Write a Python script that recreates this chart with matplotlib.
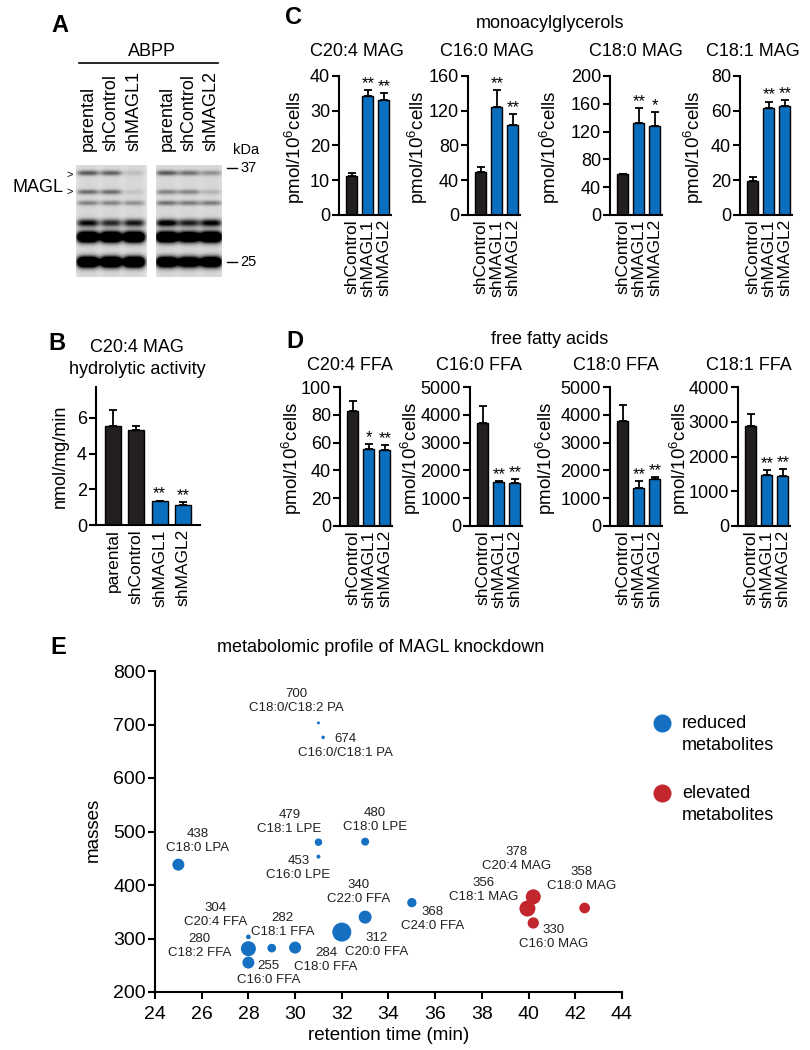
import numpy as np
import matplotlib
matplotlib.use('Agg')
import matplotlib.pyplot as plt

plt.rcParams['font.family'] = ['Liberation Sans', 'DejaVu Sans']
plt.rcParams['mathtext.default'] = 'regular'

# ---------------- data ----------------
# Panel A: western blot (ABPP) band darkness, bands from top to bottom, one row per lane
blot_lanes_1 = ['parental', 'shControl', 'shMAGL1']
blot_lanes_2 = ['parental', 'shControl', 'shMAGL2']
blot_gel1 = [[0.50, 0.42, 0.33, 0.85, 1.9, 1.9],
             [0.46, 0.42, 0.33, 0.70, 1.9, 1.9],
             [0.10, 0.08, 0.28, 0.78, 1.9, 1.9]]
blot_gel2 = [[0.50, 0.33, 0.40, 0.95, 1.9, 1.7],
             [0.40, 0.33, 0.36, 0.75, 1.7, 1.6],
             [0.28, 0.14, 0.36, 0.88, 1.9, 1.7]]
kda_marks = ['37', '25']

# Panel B
b_groups = ['parental', 'shControl', 'shMAGL1', 'shMAGL2']
b_vals = [5.55, 5.34, 1.34, 1.12]
b_errs = [0.87, 0.19, 0.03, 0.17]
b_stars = ['', '', '**', '**']

# Panel C: monoacylglycerols
c_groups = ['shControl', 'shMAGL1', 'shMAGL2']
mag_titles = ['C20:4 MAG', 'C16:0 MAG', 'C18:0 MAG', 'C18:1 MAG']
mag_vals = [[11.3, 34.2, 33.2], [50, 124, 103.5], [59.5, 133, 128], [19.8, 61.4, 62.8]]
mag_errs = [[0.8, 1.7, 1.8], [5, 20, 12.5], [0, 20.5, 20.5], [2.2, 3.9, 3.4]]
mag_stars = [['', '**', '**'], ['', '**', '**'], ['', '**', '*'], ['', '**', '**']]
mag_ymax = [40, 160, 200, 80]
mag_ystep = [10, 40, 40, 20]

# Panel D: free fatty acids
ffa_titles = ['C20:4 FFA', 'C16:0 FFA', 'C18:0 FFA', 'C18:1 FFA']
ffa_vals = [[82.9, 55.4, 54.7], [3720, 1580, 1560], [3760, 1370, 1690], [2880, 1480, 1440]]
ffa_errs = [[6.7, 3.6, 3.6], [580, 30, 130], [580, 240, 80], [340, 130, 200]]
ffa_stars = [['', '*', '**'], ['', '**', '**'], ['', '**', '**'], ['', '**', '**']]
ffa_ymax = [100, 5000, 5000, 4000]
ffa_ystep = [20, 1000, 1000, 1000]

# Panel E: metabolomic profile
met_names = ['C18:0/C18:2 PA', 'C16:0/C18:1 PA', 'C18:0 LPA', 'C18:1 LPE', 'C16:0 LPE',
             'C18:0 LPE', 'C22:0 FFA', 'C20:4 FFA', 'C18:1 FFA', 'C18:2 FFA', 'C16:0 FFA',
             'C18:0 FFA', 'C20:0 FFA', 'C24:0 FFA', 'C20:4 MAG', 'C18:1 MAG', 'C18:0 MAG',
             'C16:0 MAG']
met_mass = [700, 674, 438, 479, 453, 480, 340, 304, 282, 280, 255, 284, 312, 368, 378, 356, 358, 330]
met_rt = [31.0, 31.2, 25.0, 31.0, 31.0, 33.0, 33.0, 28.0, 29.0, 28.0, 28.0, 30.0, 32.0, 35.0,
          40.2, 39.95, 42.4, 40.2]
met_plot_mass = [703, 676, 438, 480, 453, 481, 340, 303, 282, 281, 255, 283, 312, 367,
                 378, 356, 357, 329]
met_change = ['reduced'] * 14 + ['elevated'] * 4
met_bubble = [3, 3.5, 12, 7.5, 4, 8, 13, 4.7, 8.7, 15, 12, 12, 19, 9.3, 15, 16, 10.7, 11.3]
legend_labels = [('reduced', 'metabolites'), ('elevated', 'metabolites')]

# ---------------- styles / layout ----------------
W, H = 810, 1050
BLACK = '#231f20'
BLUE = '#0b6fc0'
DOT_BLUE = '#1570c2'
RED = '#c1272d'
FS = 13

fig = plt.figure(figsize=(8.1, 10.5), dpi=100)


def px_axes(left, top, right, bottom):
    return fig.add_axes([left / W, 1 - bottom / H, (right - left) / W, (bottom - top) / H])


ov = px_axes(0, 0, W, H)
ov.axis('off')

# ---------------- Panel A ----------------
gel_top, gel_bot = 165, 277
band_y = [173, 192, 203, 223, 237, 262]
band_sig = [2.6, 2.5, 2.5, 3.8, 5.3, 5.3]


def gel_image(x0, x1, lane_cx, amps):
    xs = np.arange(x0, x1) + 0.5
    ys = np.arange(gel_top, gel_bot) + 0.5
    X, Y = np.meshgrid(xs, ys)
    img = np.full(X.shape, 0.11)
    for cx, lane in zip(lane_cx, amps):
        h = np.exp(-((X - cx) / 10.8) ** 4)
        img += 0.05 * h
        for by, s, a in zip(band_y, band_sig, lane):
            img += a * h * np.exp(-((Y - by) / s) ** 2)
    return np.clip(img, 0, 1)


gels = [(76, 147, [88, 111, 134], blot_gel1, blot_lanes_1),
        (156, 222, [167, 189, 211], blot_gel2, blot_lanes_2)]
for x0, x1, cxs, amps, lanes in gels:
    ov.imshow(gel_image(x0, x1, cxs, amps), cmap='gray_r', vmin=0, vmax=1,
              extent=[x0, x1, gel_bot, gel_top], aspect='auto', interpolation='bilinear')
    for cx, lab in zip(cxs, lanes):
        ov.text(cx, 151, lab, rotation=90, ha='center', va='bottom', fontsize=FS)

ov.text(60, 25, 'A', fontsize=17, fontweight='bold', ha='center', va='center')
ov.text(152, 52, 'ABPP', fontsize=FS, ha='center', va='center')
ov.plot([79, 218], [63, 63], color='black', lw=1.2)
ov.text(63, 188, 'MAGL', fontsize=FS, ha='right', va='center')
ov.text(70, 175, '>', fontsize=8, ha='center', va='center')
ov.text(70, 192, '>', fontsize=8, ha='center', va='center')
ov.text(246, 150, 'kDa', fontsize=10.5, ha='center', va='center')
for yy, lab in zip([168, 262], kda_marks):
    ov.plot([227, 237], [yy, yy], color='black', lw=1.0)
    ov.text(240, yy, lab, fontsize=10.5, ha='left', va='center')


# ---------------- bar panel helper ----------------
def bar_panel(left, top, bottom, labels, vals, errs, stars, ymax, ystep,
              xmin=-0.8, xmax=2.45, unit=16.0):
    ax = px_axes(left, top, left + (xmax - xmin) * unit, bottom)
    x = np.arange(len(vals))
    colors = [BLACK if (lab in ('parental', 'shControl')) else BLUE for lab in labels]
    ax.bar(x, vals, width=0.69, color=colors, edgecolor='black', linewidth=1.0, zorder=2)
    errs = np.asarray(errs, dtype=float)
    ax.errorbar(x, vals, yerr=[np.zeros(len(vals)), errs], fmt='none', ecolor='black',
                elinewidth=1.3, capsize=3.2, capthick=1.3, zorder=3)
    for xi, v, e, s in zip(x, vals, errs, stars):
        if s:
            ax.annotate(s, (xi, v + e), xytext=(0, 1.5), textcoords='offset points',
                        ha='center', va='baseline', fontsize=12)
    ax.set_xlim(xmin, xmax)
    ax.set_ylim(0, ymax)
    ax.set_yticks(np.arange(0, ymax + 1e-9, ystep))
    ax.set_xticks(x, labels, rotation=90)
    for sp in ('top', 'right'):
        ax.spines[sp].set_visible(False)
    for sp in ('left', 'bottom'):
        ax.spines[sp].set_linewidth(1.5)
    ax.tick_params(axis='y', direction='out', length=5, width=1.5, labelsize=FS, pad=1.5)
    ax.tick_params(axis='x', length=0, labelsize=12.5, pad=3)
    ax.patch.set_visible(False)
    return ax


ylab = r'pmol/10$^6$cells'
YLFS = 13.5

# ---------------- Panel B ----------------
axb = bar_panel(96, 387, 525, b_groups, b_vals, b_errs, b_stars, 7.73, 2,
                xmin=-0.73, xmax=3.73, unit=23.3)
ov.text(57, 343, 'B', fontsize=17, fontweight='bold', ha='center', va='center')
ov.text(137, 347, 'C20:4 MAG', fontsize=FS, ha='center', va='center')
ov.text(137, 369, 'hydrolytic activity', fontsize=FS, ha='center', va='center')
ov.text(60, 456, 'nmol/mg/min', fontsize=FS, rotation=90, ha='center', va='center')

# ---------------- Panel C ----------------
c_left = [339, 468, 610, 740]
c_title_x = [357, 487, 636, 753]
c_ylab_x = [295, 418, 550, 694]
for i in range(4):
    bar_panel(c_left[i], 76, 215, c_groups, mag_vals[i], mag_errs[i], mag_stars[i],
              mag_ymax[i], mag_ystep[i])
    ov.text(c_title_x[i], 51, mag_titles[i], fontsize=FS, ha='center', va='center')
    ov.text(c_ylab_x[i], 147, ylab, fontsize=YLFS, rotation=90, ha='center', va='center')
ov.text(293, 17, 'C', fontsize=17, fontweight='bold', ha='center', va='center')
ov.text(550, 24, 'monoacylglycerols', fontsize=FS, ha='center', va='center')

# ---------------- Panel D ----------------
d_left = [340, 470, 610, 738]
d_title_x = [350, 479, 616, 749]
d_ylab_x = [292, 411, 546, 680]
for i in range(4):
    bar_panel(d_left[i], 387, 526, c_groups, ffa_vals[i], ffa_errs[i], ffa_stars[i],
              ffa_ymax[i], ffa_ystep[i])
    ov.text(d_title_x[i], 365, ffa_titles[i], fontsize=FS, ha='center', va='center')
    ov.text(d_ylab_x[i], 458, ylab, fontsize=YLFS, rotation=90, ha='center', va='center')
ov.text(295, 342, 'D', fontsize=17, fontweight='bold', ha='center', va='center')
ov.text(550, 340, 'free fatty acids', fontsize=FS, ha='center', va='center')

# ---------------- Panel E ----------------
axe = px_axes(155, 671, 622, 992)
cols = [DOT_BLUE if c == 'reduced' else RED for c in met_change]
axe.scatter(met_rt, met_plot_mass, s=(np.array(met_bubble) * 0.72) ** 2, c=cols,
            linewidths=0, zorder=3)
# label offsets (pixels, right/down) relative to each point
lab_off = [(-22, -21.5), (22, 9), (19, -23.5), (-29, -20.5), (-20, 11), (10, -22),
           (-7, -25.5), (-33, -21.5), (11, -23.5), (-49, -3), (20, 10.5), (31, 12.5),
           (35, 13), (21, 16.5), (-17, -38), (-44, -18.5), (-3, -29), (20, 14)]
for name, m, rt, pm, (dx, dy) in zip(met_names, met_mass, met_rt, met_plot_mass, lab_off):
    axe.annotate(f'{m}\n{name}', (rt, pm), xytext=(dx * 0.72, -dy * 0.72),
                 textcoords='offset points', ha='center', va='center', fontsize=9.5,
                 linespacing=1.2, color='#231f20')
axe.set_xlim(24, 44)
axe.set_ylim(200, 800)
axe.set_xticks(np.arange(24, 45, 2))
axe.set_yticks(np.arange(200, 801, 100))
for sp in ('top', 'right'):
    axe.spines[sp].set_visible(False)
for sp in ('left', 'bottom'):
    axe.spines[sp].set_linewidth(1.5)
axe.tick_params(axis='x', direction='out', length=5, width=1.5, labelsize=14, pad=5)
axe.tick_params(axis='y', direction='out', length=5, width=1.5, labelsize=14, pad=1.5)
axe.set_xlabel('retention time (min)', fontsize=13.5, labelpad=3)
axe.patch.set_visible(False)
ov.text(93, 830, 'masses', fontsize=13.5, rotation=90, ha='center', va='center')
ov.text(58, 647, 'E', fontsize=17, fontweight='bold', ha='center', va='center')
ov.text(381, 647, 'metabolomic profile of MAGL knockdown', fontsize=FS, ha='center', va='center')

# legend (drawn as key: marker on the first text line)
for (l1, l2), col, yy in zip(legend_labels, [DOT_BLUE, RED], [723, 793]):
    ov.plot([662], [yy], ls='none', marker='o', markersize=13, color=col, markeredgewidth=0)
    ov.text(682, yy, l1, fontsize=FS, ha='left', va='center')
    ov.text(682, yy + 23, l2, fontsize=FS, ha='left', va='center')

ov.set_xlim(0, W)
ov.set_ylim(H, 0)

fig.savefig('out.png', dpi=100)
